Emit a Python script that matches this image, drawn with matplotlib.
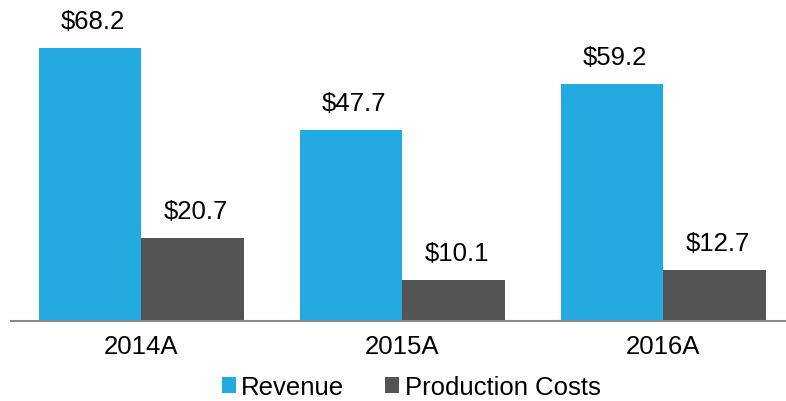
import matplotlib.pyplot as plt
import numpy as np

plt.rcParams['font.family'] = ['Liberation Sans', 'DejaVu Sans']

years = ['2014A', '2015A', '2016A']
revenue = [68.2, 47.7, 59.2]
prod_costs = [20.7, 10.1, 12.7]

c_rev = '#23AAE1'
c_prod = '#545454'

fig = plt.figure(figsize=(7.86, 4.02), dpi=100)
ax = fig.add_axes([0.014, 0.2, 0.986, 0.8])

x = np.arange(len(years))
w = 0.393
b1 = ax.bar(x - w / 2, revenue, w, color=c_rev, label='Revenue')
b2 = ax.bar(x + w / 2, prod_costs, w, color=c_prod, label='Production Costs')

for bars, vals in [(b1, revenue), (b2, prod_costs)]:
    for r, v in zip(bars, vals):
        ax.annotate('$%.1f' % v, (r.get_x() + r.get_width() / 2, v),
                    xytext=(2, 11), textcoords='offset points',
                    ha='center', va='bottom', fontsize=18.5)

ax.set_xlim(-0.5, 2.47)
ax.set_ylim(0, 80.4)
ax.set_xticks(x)
ax.set_xticklabels(years, fontsize=18.5)
ax.tick_params(axis='x', length=0, pad=10)
ax.set_yticks([])
for s in ['top', 'right', 'left']:
    ax.spines[s].set_visible(False)
ax.spines['bottom'].set_color('#898989')
ax.spines['bottom'].set_linewidth(1.5)

fig.legend(loc='center', bbox_to_anchor=(0.523, 0.035), ncol=2, frameon=False,
           fontsize=18.5, handlelength=0.55, handleheight=0.55,
           handletextpad=0.2, columnspacing=1.6, borderpad=0)

fig.savefig('out.png')
